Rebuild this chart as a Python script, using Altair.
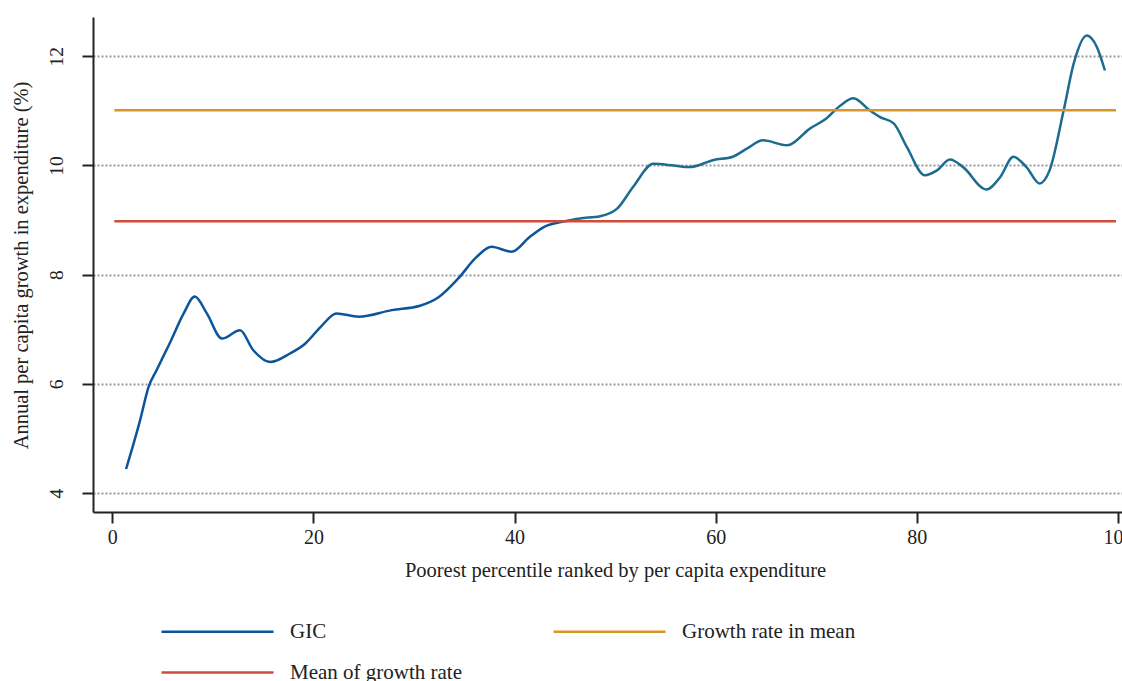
import altair as alt
import pandas as pd

# GIC curve (percentile, growth %)
gic_x = [1.37, 2.76, 3.6, 4.4, 5.7, 7.1, 8.2, 9.4, 10.9, 12.7, 14.0, 15.7, 17.7, 19.2,
         20.7, 22.3, 24.5, 27.8, 30.6, 32.4, 34.4, 36.2, 37.7, 39.7, 41.5, 43.0, 44.5]
gic_y = [4.44, 5.33, 5.94, 6.25, 6.74, 7.29, 7.60, 7.29, 6.83, 6.98, 6.62, 6.40, 6.56, 6.74,
         7.04, 7.29, 7.23, 7.35, 7.43, 7.58, 7.93, 8.32, 8.51, 8.42, 8.69, 8.88, 8.96]
gic_x2 = [44.5, 46.5, 48.5, 50.2, 51.8, 53.8, 55.8, 57.4, 59.8, 61.7, 63.1, 64.7, 67.1, 69.4,
          71.0, 72.4, 73.7, 75.3, 76.3, 77.7, 79.0, 80.8, 82.0, 83.3, 84.6, 86.9, 88.3, 89.6,
          90.9, 92.2, 93.2, 94.6, 95.6, 96.9, 97.9, 98.7]
gic_y2 = [8.96, 9.03, 9.07, 9.21, 9.61, 10.03, 10.0, 9.97, 10.10, 10.16, 10.31, 10.46, 10.37, 10.68,
          10.86, 11.10, 11.23, 11.01, 10.89, 10.77, 10.34, 9.82, 9.91, 10.11, 9.97, 9.56, 9.79, 10.16,
          9.97, 9.67, 9.91, 11.01, 11.87, 12.38, 12.17, 11.74]

series_names = ["GIC", "Growth rate in mean", "Mean of growth rate"]
series_colors = ["#0d559b", "#d9952a", "#cf4b3a"]
teal = "#1b6c8e"

line_x = [0.2, 99.8]
growth_in_mean = 11.01
mean_of_growth = 8.98

x_ticks = [0, 20, 40, 60, 80, 100]
y_ticks = [4, 6, 8, 10, 12]

FONT = "Liberation Serif"

gic1 = pd.DataFrame({"x": gic_x, "y": gic_y, "series": "GIC"})
gic2 = pd.DataFrame({"x": gic_x2, "y": gic_y2, "series": "GIC"})
hl = pd.DataFrame({
    "x": line_x + line_x,
    "y": [growth_in_mean] * 2 + [mean_of_growth] * 2,
    "series": ["Growth rate in mean"] * 2 + ["Mean of growth rate"] * 2,
})

xenc = alt.X("x:Q",
             scale=alt.Scale(domain=[-1.92, 100.4], nice=False, zero=False),
             axis=alt.Axis(values=x_ticks, format="d",
                           title="Poorest percentile ranked by per capita expenditure",
                           grid=False, tickSize=11, labelPadding=4, labelFontSize=20,
                           labelFont=FONT, titleFont=FONT,
                           titleFontSize=20.5, titleX=522, titleY=64, titleBaseline="alphabetic",
                           titleAnchor="start", titleAlign="center", titleFontWeight="normal"))
yenc = alt.Y("y:Q",
             scale=alt.Scale(domain=[3.652, 12.72], nice=False, zero=False),
             axis=alt.Axis(values=y_ticks, format="d",
                           title="Annual per capita growth in expenditure (%)",
                           grid=True, gridColor="#9a9a9a", gridDash=[2, 2], gridWidth=2,
                           tickSize=11, labelAngle=270, labelAlign="center",
                           labelBaseline="alphabetic", labelPadding=20, labelFontSize=19.5,
                           labelFont=FONT, titleFont=FONT, titleFontWeight="normal",
                           titleFontSize=20.5, titleAngle=270, titleX=-66, titleY=248,
                           titleBaseline="alphabetic", titleAlign="center", titleAnchor="start"))

color = alt.Color("series:N",
                  scale=alt.Scale(domain=series_names, range=series_colors),
                  legend=alt.Legend(title=None, orient="none", legendX=113, legendY=603,
                                    direction="horizontal", columns=2,
                                    symbolType="M-5.6,0H5.6", symbolSize=400,
                                    symbolStrokeWidth=2.5, labelFontSize=21,
                                    labelFont=FONT, labelColor="#222", labelOffset=61,
                                    columnPadding=85, rowPadding=19, labelLimit=400))

l1 = alt.Chart(gic1).mark_line(interpolate="monotone", strokeWidth=2.5).encode(
    x=xenc, y=yenc, color=color)
l2 = alt.Chart(gic2).mark_line(interpolate="monotone", strokeWidth=2.5, color=teal).encode(
    x="x:Q", y="y:Q")
l3 = alt.Chart(hl).mark_line(strokeWidth=2.5).encode(
    x="x:Q", y="y:Q", color=alt.Color("series:N"), detail="series:N")

chart = alt.layer(l1, l2, l3).properties(
    width=1029, height=495,
    background="white",
    autosize=alt.AutoSizeParams(type="none"),
    padding={"left": 93, "top": 17, "right": 0, "bottom": 169},
).configure_view(stroke=None).configure_axis(
    domainColor="#222", domainWidth=2, tickColor="#222", tickWidth=2,
    labelFont=FONT, titleFont=FONT, labelColor="#222", titleColor="#222",
    titleFontWeight="normal",
)

chart.save("out.html", embed_options={"renderer": "svg", "actions": False})
